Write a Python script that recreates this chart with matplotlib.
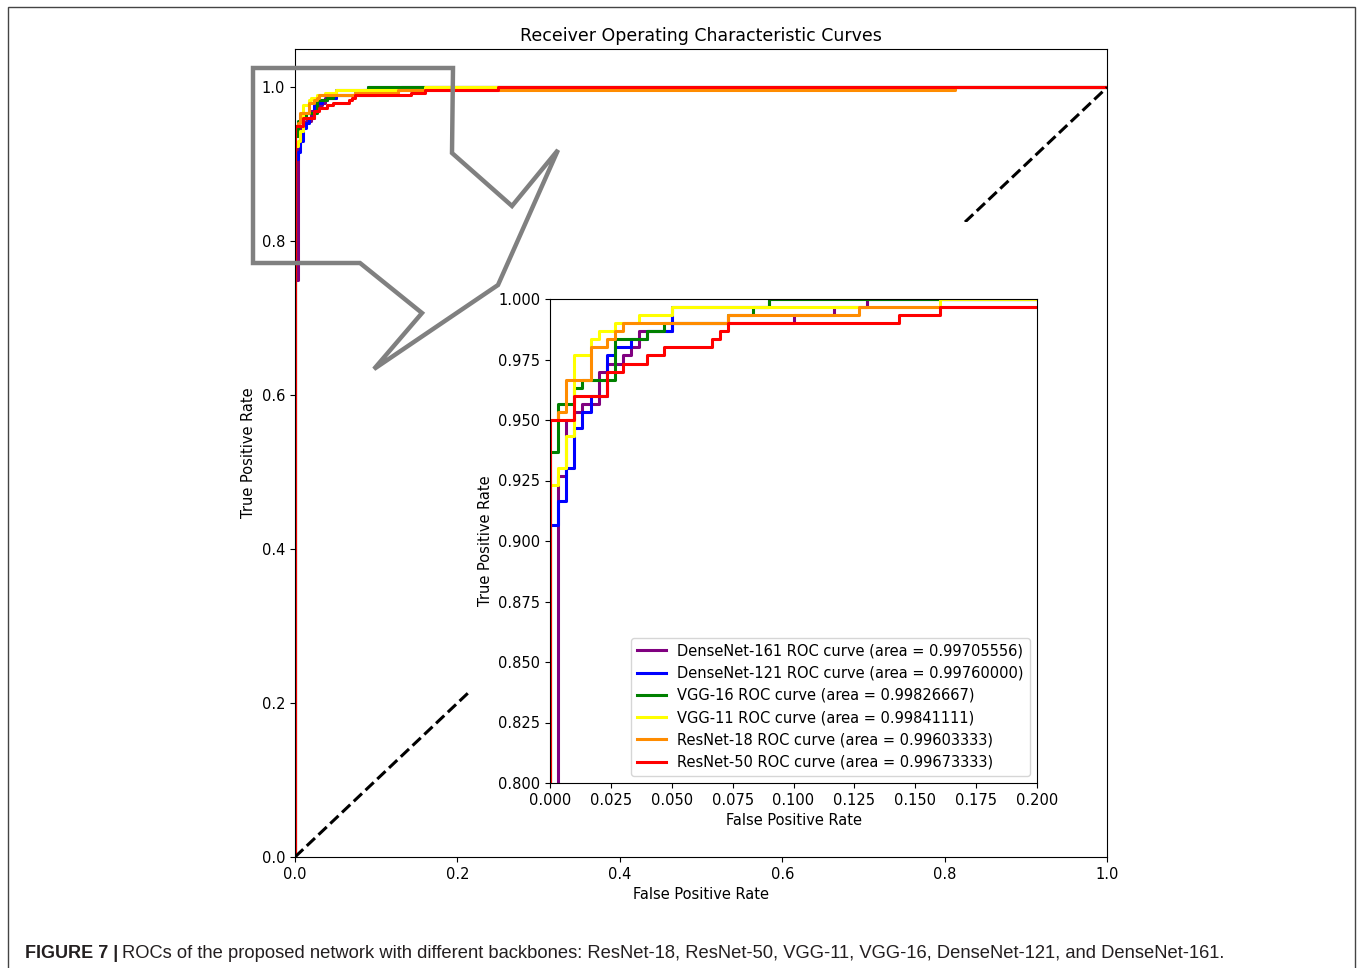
import matplotlib
matplotlib.use('Agg')
import matplotlib.pyplot as plt
from matplotlib.patches import Rectangle, Polygon

# ROC corner points (fpr, tpr)
fpr_d161 = [0, 0, 0.0033, 0.0033, 0.0067, 0.0067, 0.0100, 0.0100, 0.0133, 0.0133, 0.0200, 0.0200,
            0.0233, 0.0233, 0.0300, 0.0300, 0.0333, 0.0333, 0.0367, 0.0367, 0.0500, 0.0500,
            0.1000, 0.1000, 0.1167, 0.1167, 0.1300, 0.1300, 1.0]
tpr_d161 = [0, 0.75, 0.75, 0.9267, 0.9267, 0.9500, 0.9500, 0.9533, 0.9533, 0.9567, 0.9567, 0.9700,
            0.9700, 0.9733, 0.9733, 0.9767, 0.9767, 0.9800, 0.9800, 0.9867, 0.9867, 0.9900,
            0.9900, 0.9933, 0.9933, 0.9967, 0.9967, 1.0, 1.0]

fpr_d121 = [0, 0, 0.0033, 0.0033, 0.0067, 0.0067, 0.0100, 0.0100, 0.0133, 0.0133, 0.0167, 0.0167,
            0.0233, 0.0233, 0.0267, 0.0267, 0.0333, 0.0333, 0.0400, 0.0400, 0.0500, 0.0500,
            0.0900, 0.0900, 1.0]
tpr_d121 = [0, 0.9067, 0.9067, 0.9167, 0.9167, 0.9300, 0.9300, 0.9467, 0.9467, 0.9533, 0.9533, 0.9600,
            0.9600, 0.9767, 0.9767, 0.9800, 0.9800, 0.9833, 0.9833, 0.9867, 0.9867, 0.9967,
            0.9967, 1.0, 1.0]

fpr_vgg16 = [0, 0, 0.0033, 0.0033, 0.0100, 0.0100, 0.0133, 0.0133, 0.0267, 0.0267, 0.0400, 0.0400,
             0.0467, 0.0467, 0.0733, 0.0733, 0.0833, 0.0833, 0.0900, 0.0900, 1.0]
tpr_vgg16 = [0, 0.9367, 0.9367, 0.9567, 0.9567, 0.9633, 0.9633, 0.9667, 0.9667, 0.9833, 0.9833, 0.9867,
             0.9867, 0.9900, 0.9900, 0.9933, 0.9933, 0.9967, 0.9967, 1.0, 1.0]

fpr_vgg11 = [0, 0, 0.0033, 0.0033, 0.0067, 0.0067, 0.0100, 0.0100, 0.0167, 0.0167, 0.0200, 0.0200,
             0.0267, 0.0267, 0.0367, 0.0367, 0.0500, 0.0500, 0.1600, 0.1600, 1.0]
tpr_vgg11 = [0, 0.9233, 0.9233, 0.9300, 0.9300, 0.9433, 0.9433, 0.9767, 0.9767, 0.9833, 0.9833, 0.9867,
             0.9867, 0.9900, 0.9900, 0.9933, 0.9933, 0.9967, 0.9967, 1.0, 1.0]

fpr_r18 = [0, 0, 0.0033, 0.0033, 0.0067, 0.0067, 0.0167, 0.0167, 0.0233, 0.0233, 0.0267, 0.0267,
           0.0300, 0.0300, 0.0733, 0.0733, 0.1267, 0.1267, 0.8130, 0.8130, 1.0]
tpr_r18 = [0, 0.9500, 0.9500, 0.9533, 0.9533, 0.9667, 0.9667, 0.9800, 0.9800, 0.9833, 0.9833, 0.9867,
           0.9867, 0.9900, 0.9900, 0.9933, 0.9933, 0.9967, 0.9967, 1.0, 1.0]

fpr_r50 = [0, 0, 0.0100, 0.0100, 0.0233, 0.0233, 0.0300, 0.0300, 0.0400, 0.0400, 0.0467, 0.0467,
           0.0667, 0.0667, 0.0700, 0.0700, 0.0733, 0.0733, 0.1433, 0.1433, 0.1600, 0.1600,
           0.2500, 0.2500, 1.0]
tpr_r50 = [0, 0.9500, 0.9500, 0.9600, 0.9600, 0.9700, 0.9700, 0.9733, 0.9733, 0.9767, 0.9767, 0.9800,
           0.9800, 0.9833, 0.9833, 0.9867, 0.9867, 0.9900, 0.9900, 0.9933, 0.9933, 0.9967,
           0.9967, 1.0, 1.0]

names = ['DenseNet-161', 'DenseNet-121', 'VGG-16', 'VGG-11', 'ResNet-18', 'ResNet-50']
areas = [0.99705556, 0.99760000, 0.99826667, 0.99841111, 0.99603333, 0.99673333]
colors = ['purple', 'blue', 'green', 'yellow', 'darkorange', 'red']
fprs = [fpr_d161, fpr_d121, fpr_vgg16, fpr_vgg11, fpr_r18, fpr_r50]
tprs = [tpr_d161, tpr_d121, tpr_vgg16, tpr_vgg11, tpr_r18, tpr_r50]

caption_bold = 'FIGURE 7 |'
caption_text = ('ROCs of the proposed network with different backbones: ResNet-18, ResNet-50, '
                'VGG-11, VGG-16, DenseNet-121, and DenseNet-161.')

W, H = 1360, 968
fig = plt.figure(figsize=(W / 100, H / 100), dpi=100)


def fx(px):
    return px / W


def fy(py):
    return 1 - py / H


# main axes
ax = fig.add_axes([fx(295), fy(857), fx(1107) - fx(295), fy(49) - fy(857)])
ax.set_zorder(0)
for f, t, c in zip(fprs, tprs, colors):
    ax.plot(f, t, color=c, lw=2.2)
ax.plot([0, 1], [0, 1], 'k--', lw=2.2)
ax.set_xlim(0.0, 1.0)
ax.set_ylim(0.0, 1.05)
ax.set_xlabel('False Positive Rate', fontsize=10.5)
ax.set_ylabel('True Positive Rate', fontsize=10.5)
ax.set_title('Receiver Operating Characteristic Curves', fontsize=12.5)
ax.tick_params(labelsize=10.5)

# white background behind the zoomed inset
cover = Rectangle((fx(470), fy(836)), fx(1075) - fx(470), fy(222) - fy(836),
                  transform=fig.transFigure, facecolor='white', edgecolor='none', zorder=1)
fig.add_artist(cover)

# inset axes
axin = fig.add_axes([fx(550), fy(783), fx(1037) - fx(550), fy(299) - fy(783)])
axin.set_zorder(2)
for f, t, c, n, a in zip(fprs, tprs, colors, names, areas):
    axin.plot(f, t, color=c, lw=2.2, label='%s ROC curve (area = %0.8f)' % (n, a))
axin.set_xlim(0.0, 0.2)
axin.set_ylim(0.8, 1.0)
axin.set_xticks([i * 0.025 for i in range(9)])
axin.set_yticks([0.8 + i * 0.025 for i in range(9)])
axin.xaxis.set_major_formatter('{x:.3f}')
axin.yaxis.set_major_formatter('{x:.3f}')
axin.tick_params(labelsize=10.5)
axin.set_xlabel('False Positive Rate', fontsize=10.5)
axin.set_ylabel('True Positive Rate', fontsize=10.5)
axin.legend(loc='lower right', fontsize=10.5)

# gray zoom callout
pts = [(253, 68), (453, 68), (452, 153), (512, 206), (558, 150), (498, 285),
       (374, 369), (422, 313), (360, 263), (253, 263)]
callout = Polygon([(fx(x), fy(y)) for x, y in pts], closed=True, transform=fig.transFigure,
                  fill=False, edgecolor='#808080', lw=3.2, zorder=3, joinstyle='miter')
fig.add_artist(callout)

# page frame
frame = Rectangle((fx(8), -0.01), fx(1355) - fx(8), fy(7) + 0.01, transform=fig.transFigure,
                  fill=False, edgecolor='#444444', lw=1.0, zorder=4)
fig.add_artist(frame)

# caption
fam = ['Liberation Sans Narrow', 'Liberation Sans']
tb = fig.text(fx(25), fy(953), caption_bold, fontsize=13, fontweight='bold', family=fam,
              color='#231f20', va='center', ha='left')
renderer = fig.canvas.get_renderer()
bb = tb.get_window_extent(renderer)
tr = fig.text(fx(bb.x1 + 4), fy(953), caption_text, fontsize=13, family=fam,
              color='#231f20', va='center', ha='left')
w = tr.get_window_extent(renderer).width
tr.set_fontsize(13 * (1222 - bb.x1 - 4) / w)

fig.savefig('out.png', dpi=100)
